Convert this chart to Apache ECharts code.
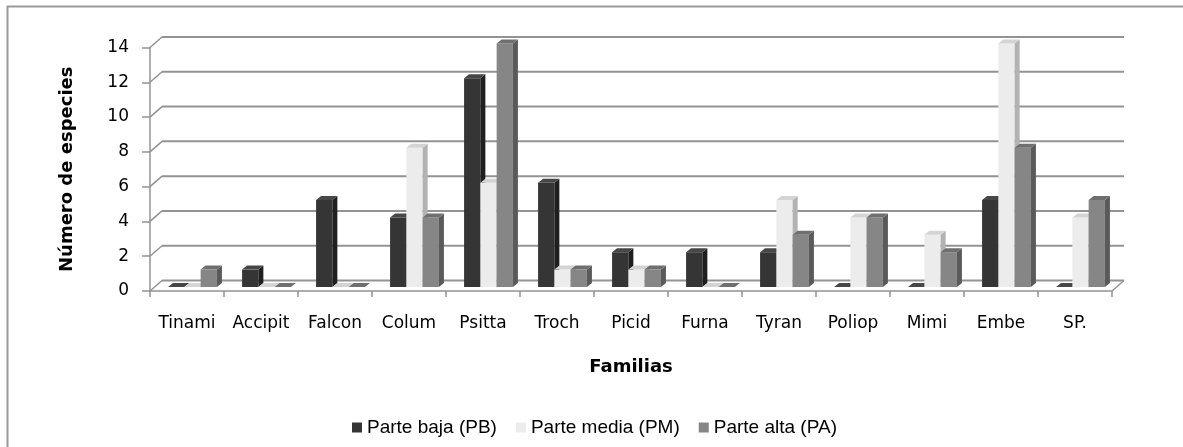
<!DOCTYPE html>
<html>
<head>
<meta charset="utf-8">
<script src="https://cdn.jsdelivr.net/npm/echarts@6/dist/echarts.min.js"></script>
<style>
  html, body { margin: 0; padding: 0; background: #ffffff; }
  #chart { width: 1183px; height: 447px; }
</style>
</head>
<body>
<div id="chart"></div>
<script>
// Bird families and species counts per altitude band
const familias = ['Tinami', 'Accipit', 'Falcon', 'Colum', 'Psitta', 'Troch', 'Picid', 'Furna', 'Tyran', 'Poliop', 'Mimi', 'Embe', 'SP.'];
const parteBaja  = [0, 1, 5, 4, 12, 6, 2, 2, 2, 0, 0, 5, 0];
const parteMedia = [0, 0, 0, 8, 6, 1, 1, 0, 5, 4, 3, 14, 4];
const parteAlta  = [1, 0, 0, 4, 14, 1, 1, 0, 3, 4, 2, 8, 5];
const seriesNames = ['Parte baja (PB)', 'Parte media (PM)', 'Parte alta (PA)'];
const yTicks = [0, 2, 4, 6, 8, 10, 12, 14];

// Face shades for the pseudo-3D columns: front, side, top
const shades = [
  { front: '#353535', side: '#1f1f1f', top: '#474747' },
  { front: '#ececec', side: '#b2b2b2', top: '#d4d4d4' },
  { front: '#868686', side: '#5a5a5a', top: '#6f6f6f' }
];

const WALL_DX = 12, WALL_DY = -10.5;   // back wall offset
const BAR_DX = 5.5, BAR_DY = -4;       // columns sit midway in depth
const DEPTH_DX = 5, DEPTH_DY = -4;     // column thickness
const GRID_COLOR = '#939393';

function wallRender(params, api) {
  const cs = params.coordSys;
  const v = api.value(1);
  const y = api.coord([0, v])[1];
  const x0 = cs.x, x1 = cs.x + cs.width;
  const children = [
    { type: 'line', shape: { x1: x0 + WALL_DX, y1: y + WALL_DY, x2: x1 + WALL_DX, y2: y + WALL_DY },
      style: { stroke: GRID_COLOR, lineWidth: 2 } },
    { type: 'line', shape: { x1: x0, y1: y, x2: x0 + WALL_DX, y2: y + WALL_DY },
      style: { stroke: GRID_COLOR, lineWidth: 1.5 } }
  ];
  if (v === 0) {
    children.push({ type: 'line', shape: { x1: x1, y1: y, x2: x1 + WALL_DX, y2: y + WALL_DY },
      style: { stroke: GRID_COLOR, lineWidth: 1.5 } });
  }
  return { type: 'group', children: children };
}

function makeBarRender(k) {
  const c = shades[k];
  return function (params, api) {
    const idx = api.value(0);
    const val = api.value(1);
    const topPt = api.coord([idx, val]);
    const basePt = api.coord([idx, 0]);
    const band = api.size([1, 0])[0];
    const w = band * 0.22;
    const x = topPt[0] - 1.5 * w + k * w + BAR_DX;
    const yT = topPt[1] + BAR_DY;
    const yB = basePt[1] + BAR_DY;
    return {
      type: 'group',
      children: [
        { type: 'rect', shape: { x: x, y: yT, width: w, height: yB - yT }, style: { fill: c.front } },
        { type: 'polygon', shape: { points: [[x + w, yT], [x + w + DEPTH_DX, yT + DEPTH_DY], [x + w + DEPTH_DX, yB + DEPTH_DY], [x + w, yB]] },
          style: { fill: c.side } },
        { type: 'polygon', shape: { points: [[x, yT], [x + DEPTH_DX, yT + DEPTH_DY], [x + w + DEPTH_DX, yT + DEPTH_DY], [x + w, yT]] },
          style: { fill: c.top } }
      ]
    };
  };
}

const valueSets = [parteBaja, parteMedia, parteAlta];
const barSeries = valueSets.map(function (vals, k) {
  return {
    name: seriesNames[k],
    type: 'custom',
    renderItem: makeBarRender(k),
    itemStyle: { color: shades[k].front },
    encode: { x: 0, y: 1 },
    data: vals.map(function (v, i) { return [i, v]; }),
    z: 5
  };
});

const chart = echarts.init(document.getElementById('chart'));
chart.setOption({
  animation: false,
  backgroundColor: '#ffffff',
  textStyle: { fontFamily: 'DejaVu Sans' },
  graphic: [{
    type: 'rect', silent: true, z: 0,
    shape: { x: 7.5, y: 6.5, width: 1200, height: 460 },
    style: { fill: null, stroke: '#9a9a9a', lineWidth: 2 }
  }],
  legend: {
    data: seriesNames,
    left: 347, top: 413,
    icon: 'rect', itemWidth: 10, itemHeight: 10, itemGap: 19,
    textStyle: { fontFamily: 'Liberation Sans', fontSize: 19, color: '#000' }
  },
  grid: { left: 150, right: 71, top: 47.5, bottom: 156, containLabel: false },
  xAxis: {
    type: 'category',
    data: familias,
    name: 'Familias',
    nameLocation: 'middle',
    nameGap: 67,
    nameTextStyle: { fontFamily: 'DejaVu Sans', fontWeight: 'bold', fontSize: 18, color: '#000' },
    axisLine: { lineStyle: { color: GRID_COLOR, width: 1.5 } },
    axisTick: { show: true, length: 6, interval: 0, lineStyle: { color: GRID_COLOR, width: 1.5 } },
    axisLabel: { interval: 0, margin: 24, fontSize: 17, color: '#000', fontFamily: 'DejaVu Sans' },
    splitLine: { show: false }
  },
  yAxis: {
    type: 'value',
    min: 0, max: 14, interval: 2,
    name: 'Número de especies',
    nameLocation: 'middle',
    nameGap: 74,
    nameRotate: 90,
    nameTextStyle: { fontFamily: 'DejaVu Sans', fontWeight: 'bold', fontSize: 18, color: '#000' },
    axisLine: { show: true, lineStyle: { color: GRID_COLOR, width: 1.5 } },
    axisTick: { show: true, length: 8, lineStyle: { color: GRID_COLOR, width: 1.5 } },
    axisLabel: { margin: 21, fontSize: 17, color: '#000', fontFamily: 'DejaVu Sans' },
    splitLine: { show: false }
  },
  series: [{
    name: 'wall',
    type: 'custom',
    silent: true,
    renderItem: wallRender,
    encode: { x: 0, y: 1 },
    data: yTicks.map(function (v) { return [0, v]; }),
    z: 1
  }].concat(barSeries)
});
</script>
</body>
</html>
